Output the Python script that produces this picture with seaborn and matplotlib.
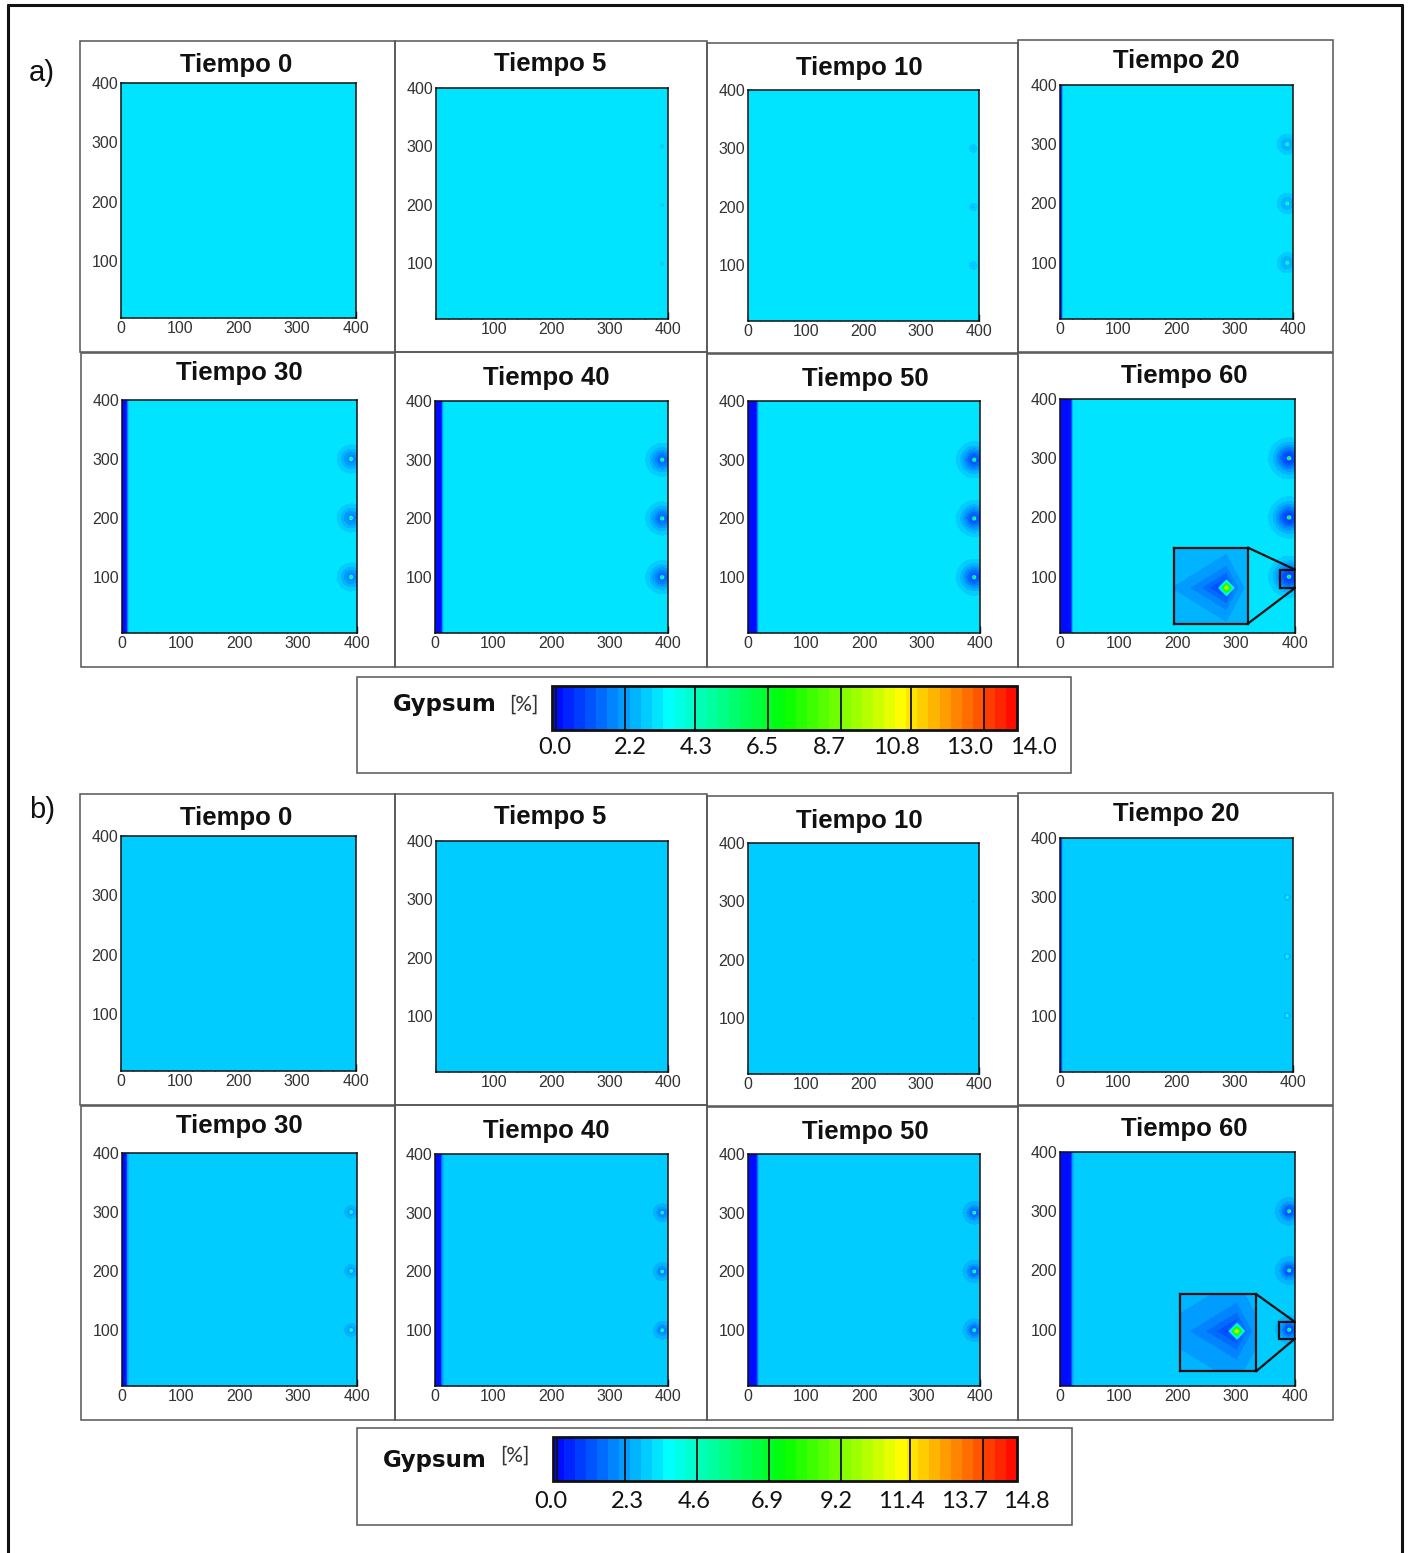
import numpy as np
import matplotlib
matplotlib.use("Agg")
import matplotlib.pyplot as plt
import seaborn as sns
from matplotlib.patches import Rectangle
from matplotlib.lines import Line2D

sns.set_theme(style="white")
plt.rcParams['font.family'] = ['Liberation Sans', 'DejaVu Sans']

# ---------------- data ----------------
times = [0, 5, 10, 20, 30, 40, 50, 60]
panel_titles = ["Tiempo %d" % t for t in times]

# case a
vmax_a = 14.0
cbar_ticks_a = [0.0, 2.2, 4.3, 6.5, 8.7, 10.8, 13.0, 14.0]
background_a = 3.2
strip_width_a = [-10, -10, -10, 4, 10, 13, 17, 21]
spot_halo_a = [0, 5, 8, 15, 18, 20, 21, 23]
spot_dip_a = [0, 0.5, 0.6, 1.0, 1.5, 1.9, 2.2, 2.5]
spot_peak_a = [0, 0, 0, 3.0, 4.0, 5.0, 6.0, 7.0]
inset_box_a = [194, 21, 126, 128]          # x, y, w, h (data units)
zoom_box_a = [375, 81, 25, 31]
inset_center_a = [0.71, 0.47]
inset_edge_a = 2.7
inset_peak_a = 10.5

# case b
vmax_b = 14.8
cbar_ticks_b = [0.0, 2.3, 4.6, 6.9, 9.2, 11.4, 13.7, 14.8]
background_b = 2.9
strip_width_b = [-10, -10, -10, 3, 9, 12, 17, 21]
spot_halo_b = [0, 0, 3, 5, 8, 10, 12, 14]
spot_dip_b = [0, 0, 0.4, 0.6, 1.0, 1.5, 1.8, 2.1]
spot_peak_b = [0, 0, 0, 2.0, 3.0, 4.0, 5.0, 6.0]
inset_box_b = [205, 30, 129, 130]
zoom_box_b = [373, 85, 27, 28]
inset_center_b = [0.745, 0.52]
inset_edge_b = 2.6
inset_peak_b = 11.0

spot_x = 390
spot_y = [100, 200, 300]
strip_floor = 0.1
inset_core = 0.2

# ---------------- layout (pixels) ----------------
W, H = 1408, 1553
fig = plt.figure(figsize=(W / 100, H / 100), dpi=100)

def fbox(x0, y0, x1, y1):
    return [x0 / W, 1 - y1 / H, (x1 - x0) / W, (y1 - y0) / H]

plot_boxes_a = [
    (121, 83, 356, 318), (436, 88, 668, 319), (748, 90, 979, 321), (1060, 85, 1293, 319),
    (122, 400, 357, 633), (435, 401, 668, 633), (748, 401, 980, 633), (1060, 399, 1295, 633),
]
title_pos_a = [(236, 65), (550, 64), (859, 68), (1176, 61),
               (239, 373), (546, 378), (865, 379), (1184, 376)]
cell_boxes_a = [
    (80, 41, 395, 352), (395, 41, 707, 352), (707, 43, 1018, 353), (1018, 40, 1333, 352),
    (81, 353, 395, 667), (395, 352, 707, 667), (707, 354, 1018, 667), (1018, 353, 1333, 667),
]
DY = 753
cbar_label_x_a = [555, 630, 696, 762, 829, 896, 970, 1033]
cbar_label_x_b = [551, 627, 694, 767, 836, 901, 964, 1026]

# outer frame
for (xa, ya, xb, yb) in [(8, 5, 8, 1553), (8, 5, 1402, 5), (1402, 5, 1402, 1553)]:
    fig.add_artist(Line2D([xa / W, xb / W], [1 - ya / H, 1 - yb / H], color='#111111', lw=2.2))

cmap = sns.blend_palette(["#0000ff", "#00ffff", "#00ff00", "#ffff00", "#ff0000"], as_cmap=True)

gx = np.linspace(0, 400, 401)
X, Y = np.meshgrid(gx, gx)

def make_field(bg, w, halo, dip, peak, vmax):
    v = np.full_like(X, bg)
    v = v - (bg - strip_floor) / (1 + np.exp((X - w) / 1.0))
    if halo > 0:
        for yc in spot_y:
            r = np.hypot(X - spot_x, Y - yc)
            v = v - dip * np.exp(-(r / halo) ** 2)
            v = v + peak * np.exp(-(r / 2.0) ** 2)
    return np.clip(v, 0, vmax - 1e-6)

gu = np.linspace(0, 1, 301)
U, V = np.meshgrid(gu, gu)

def make_inset(center, edge, peak, vmax):
    dx = U - center[0]
    dy = V - center[1]
    d = np.abs(dy) * 1.0 + np.where(dx < 0, -dx * 0.6, dx * 1.8)
    base = edge - (edge - inset_core) * np.exp(-d / 0.24)
    dd = np.abs(dx) + np.abs(dy)
    diamond = peak * (1 - dd / 0.13)
    return np.clip(np.maximum(base, diamond), 0, vmax - 1e-6)

def style_axes(ax, idx):
    ax.set_xlim(0, 400)
    ax.set_ylim(5, 400)
    ax.set_xticks([0, 100, 200, 300, 400])
    ax.set_xticklabels(["" if (t == 0 and times[idx] == 5) else str(t) for t in [0, 100, 200, 300, 400]])
    ax.set_yticks([100, 200, 300, 400])
    ax.set_yticklabels(["100", "200", "300", "400"])
    ax.set_xticks(np.arange(0, 401, 20), minor=True)
    ax.set_yticks(np.arange(20, 401, 20), minor=True)
    ax.tick_params(which='major', direction='in', length=5, width=1, colors='#111111',
                   labelsize=11.5, labelcolor='#333333', pad=2, bottom=True, left=True)
    ax.tick_params(which='minor', direction='in', length=3, width=0.9, colors='#111111',
                   bottom=True, left=True)
    for s in ax.spines.values():
        s.set_color('#111111')
        s.set_linewidth(1.1)

def draw_case(dy, bg, strips, halos, dips, peaks, vmax, ticks, label_x, inset_box, zoom_box,
              inset_center, inset_edge, inset_peak, cbar_box, cbar_ax, gyp_pos, pct_pos, ticky):
    levels = np.linspace(0, vmax, 43)
    cs_last = None
    for i in range(8):
        x0, y0, x1, y1 = plot_boxes_a[i]
        cx0, cy0, cx1, cy1 = cell_boxes_a[i]
        fig.add_artist(Rectangle((cx0 / W, 1 - (cy1 + dy) / H), (cx1 - cx0) / W, (cy1 - cy0) / H,
                                 fill=False, edgecolor='#555555', lw=1.1, transform=fig.transFigure))
        ax = fig.add_axes(fbox(x0, y0 + dy, x1, y1 + dy))
        Z = make_field(bg, strips[i], halos[i], dips[i], peaks[i], vmax)
        cs = ax.contourf(X, Y, Z, levels=levels, cmap=cmap, vmin=0, vmax=vmax)
        cs_last = cs
        style_axes(ax, i)
        tx, ty = title_pos_a[i]
        fig.text(tx / W, 1 - (ty + dy) / H, panel_titles[i], ha='center', va='center',
                 fontsize=18.5, fontweight='bold', color='#111111')
        if i == 7:
            ix, iy, iw, ih = inset_box
            iax = ax.inset_axes([ix, iy, iw, ih], transform=ax.transData)
            Zi = make_inset(inset_center, inset_edge, inset_peak, vmax)
            iax.contourf(U, V, Zi, levels=levels, cmap=cmap, vmin=0, vmax=vmax)
            iax.set_xticks([]); iax.set_yticks([])
            for s in iax.spines.values():
                s.set_color('#111111'); s.set_linewidth(1.6)
            zx, zy, zw, zh = zoom_box
            ax.add_patch(Rectangle((zx, zy), zw, zh, fill=False, edgecolor='#111111', lw=1.6))
            ax.plot([ix + iw, zx + zw], [iy + ih, zy + zh], color='#111111', lw=1.6, clip_on=False)
            ax.plot([ix + iw, zx + zw], [iy, zy], color='#111111', lw=1.6, clip_on=False)
    bx0, by0, bx1, by1 = cbar_box
    fig.add_artist(Rectangle((bx0 / W, 1 - by1 / H), (bx1 - bx0) / W, (by1 - by0) / H,
                             fill=False, edgecolor='#555555', lw=1.1, transform=fig.transFigure))
    cax = fig.add_axes(fbox(*cbar_ax))
    cb = fig.colorbar(cs_last, cax=cax, orientation='horizontal', ticks=ticks)
    cb.outline.set_linewidth(2.0)
    cb.outline.set_edgecolor('#111111')
    for t in ticks[1:-1]:
        cax.axvline(t, color='#111111', lw=1.3)
    cax.axvline(0.12, color='#111111', lw=1.3)
    cax.set_xticklabels([])
    cax.tick_params(length=0)
    for t, xp in zip(ticks, label_x):
        fig.text(xp / W, 1 - ticky / H, "%.1f" % t, ha='center', va='center',
                 fontsize=17, family=['Lato', 'DejaVu Sans'], color='#111111')
    fig.text(gyp_pos[0] / W, 1 - gyp_pos[1] / H, "Gypsum", ha='left', va='center',
             fontsize=16.5, fontweight='bold', family=['DejaVu Sans'], color='#111111')
    fig.text(pct_pos[0] / W, 1 - pct_pos[1] / H, "[%]", ha='left', va='center',
             fontsize=15, family=['Lato', 'DejaVu Sans'], color='#333333')

draw_case(0, background_a, strip_width_a, spot_halo_a, spot_dip_a, spot_peak_a, vmax_a,
          cbar_ticks_a, cbar_label_x_a, inset_box_a, zoom_box_a, inset_center_a, inset_edge_a,
          inset_peak_a, (357, 677, 1071, 773), (552, 686, 1017, 730), (393, 705), (509, 705), 748)
draw_case(DY, background_b, strip_width_b, spot_halo_b, spot_dip_b, spot_peak_b, vmax_b,
          cbar_ticks_b, cbar_label_x_b, inset_box_b, zoom_box_b, inset_center_b, inset_edge_b,
          inset_peak_b, (357, 1428, 1072, 1525), (553, 1437, 1017, 1481), (383, 1460), (500, 1456), 1501)

fig.text(42 / W, 1 - 73 / H, "a)", ha='center', va='center', fontsize=21, color='#111111')
fig.text(42 / W, 1 - 810 / H, "b)", ha='center', va='center', fontsize=21, color='#111111')

fig.savefig("out.png", dpi=100)
